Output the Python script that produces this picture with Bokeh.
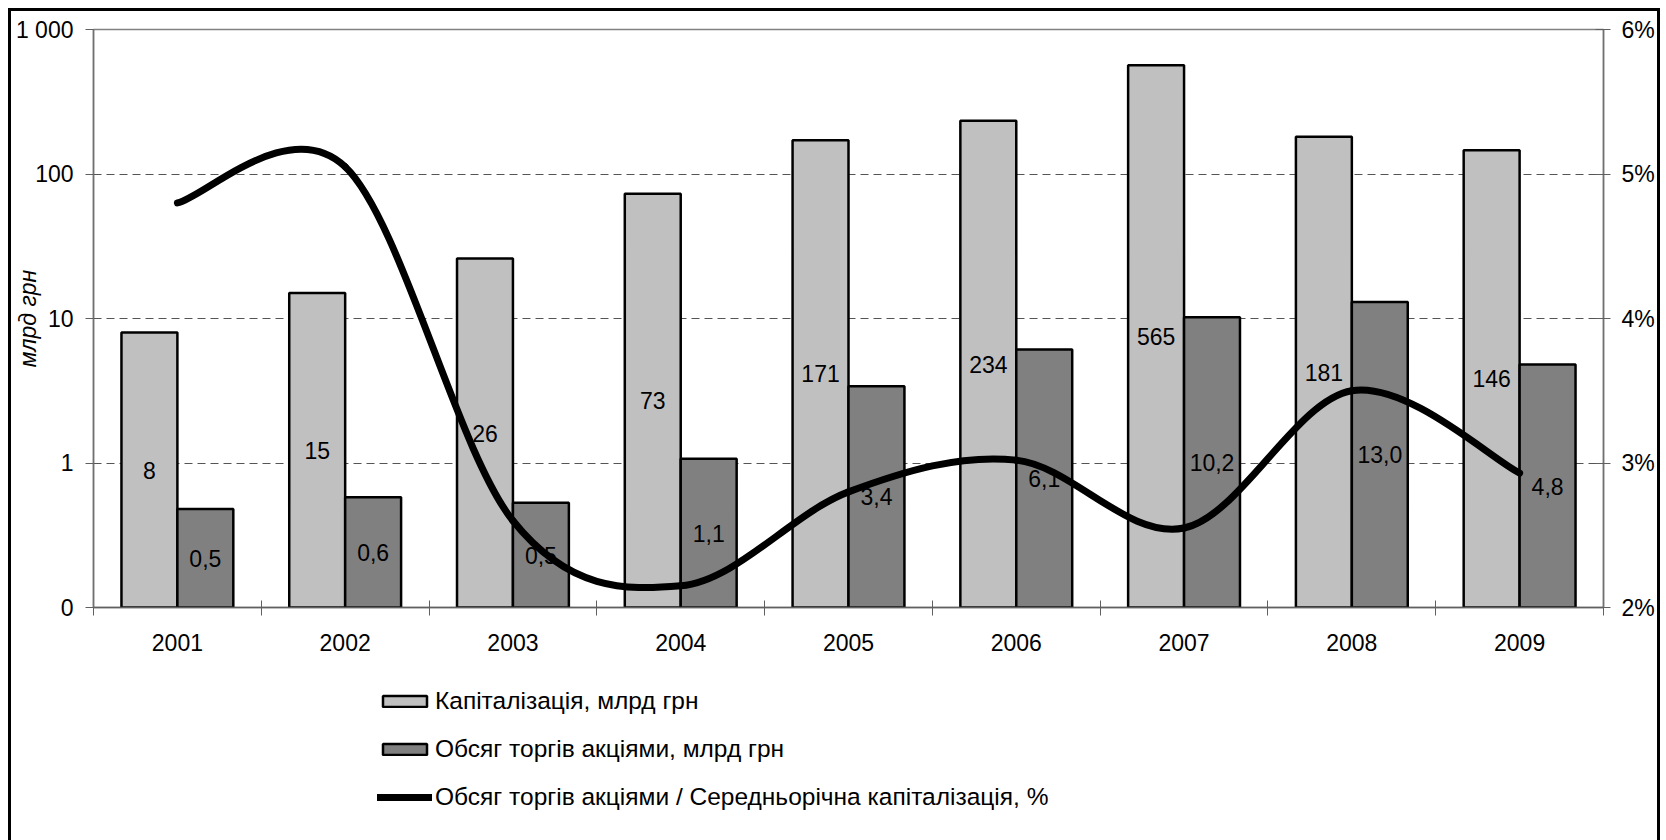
import math
from bokeh.plotting import figure
from bokeh.layouts import column
from bokeh.models import (Range1d, LinearAxis, FixedTicker, Legend, LegendItem,
                          LinearScale)
from bokeh.core.properties import value
from bokeh.embed import file_html
from bokeh.resources import INLINE

# ---------------- data ----------------
years = ["2001", "2002", "2003", "2004", "2005", "2006", "2007", "2008", "2009"]
capitalization = [8, 15, 26, 73, 171, 234, 565, 181, 146]          # млрд грн
trading = [0.48, 0.58, 0.53, 1.07, 3.4, 6.1, 10.2, 13.0, 4.8]       # млрд грн
ratio_pct = [4.80, 5.05, 2.60, 2.15, 2.80, 3.02, 2.55, 3.50, 2.93]  # %
left_ticks = [0.1, 1.0, 10.0, 100.0, 1000.0]
left_tick_labels = ["0", "1", "10", "100", "1 000"]
right_ticks = [2, 3, 4, 5, 6]
right_tick_labels = ["2%", "3%", "4%", "5%", "6%"]
grid_ticks = [1.0, 10.0, 100.0]

name_cap = "Капіталізація, млрд грн"
name_trade = "Обсяг торгів акціями, млрд грн"
name_ratio = "Обсяг торгів акціями / Середньорічна капіталізація, %"
y_title = "млрд грн"

FONT = "Liberation Sans"
FS = "23px"
LEGEND_FS = "24.5px"
LOG_BASE = 0.1
CAP_COLOR = "#C0C0C0"
TRADE_COLOR = "#808080"
LINE_W = 7

# ---------------- derived ----------------
n = len(years)
idx = [i + 1 for i in range(n)]
cap_x = [i - 1 / 6 for i in idx]
trade_x = [i + 1 / 6 for i in idx]
cap_lbl = [f"{v:.0f}" for v in capitalization]
trade_lbl = [f"{v:.1f}".replace(".", ",") for v in trading]
cap_ly = [math.sqrt(LOG_BASE * v) for v in capitalization]
trade_ly = [math.sqrt(LOG_BASE * v) for v in trading]

# smoothed line (Catmull-Rom style Bezier segments through the data points)
x0, y0, x1, y1, cx0, cy0, cx1, cy1 = ([] for _ in range(8))
for i in range(n - 1):
    pi_ = max(i - 1, 0)
    ni_ = min(i + 2, n - 1)
    x0.append(idx[i]); y0.append(ratio_pct[i])
    x1.append(idx[i + 1]); y1.append(ratio_pct[i + 1])
    cx0.append(idx[i] + (idx[i + 1] - idx[pi_]) / 6)
    cy0.append(ratio_pct[i] + (ratio_pct[i + 1] - ratio_pct[pi_]) / 6)
    cx1.append(idx[i + 1] - (idx[ni_] - idx[i]) / 6)
    cy1.append(ratio_pct[i + 1] - (ratio_pct[ni_] - ratio_pct[i]) / 6)

# ---------------- chart figure ----------------
p = figure(width=1646, height=659, output_backend="svg", toolbar_location=None,
           x_range=Range1d(0.5, 9.5), y_range=Range1d(0.1, 1000),
           y_axis_type="log",
           min_border_left=81, min_border_right=52, min_border_top=18,
           min_border_bottom=63)
p.background_fill_color = "white"
p.border_fill_color = "white"
p.outline_line_color = "#808080"
p.outline_line_width = 1.5

p.extra_y_ranges = {"pct": Range1d(2, 6)}
p.extra_y_scales = {"pct": LinearScale()}

# x axis
xa = p.xaxis[0]
xa.ticker = FixedTicker(ticks=idx, minor_ticks=[i - 0.5 for i in idx] + [idx[-1] + 0.5])
xa.major_label_overrides = {i: y for i, y in zip(idx, years)}
xa.major_tick_in = 0
xa.major_tick_out = 0
xa.minor_tick_in = 7
xa.minor_tick_out = 8
xa.minor_tick_line_color = "#606060"
xa.axis_line_color = "#606060"
xa.axis_line_width = 1.5
xa.major_label_standoff = 18
xa.major_label_text_font = FONT
xa.major_label_text_font_size = FS
xa.major_label_text_color = "black"

# left axis
ya = p.yaxis[0]
ya.ticker = FixedTicker(ticks=left_ticks)
ya.major_label_overrides = {t: l for t, l in zip(left_ticks, left_tick_labels)}
ya.major_tick_in = 0
ya.major_tick_out = 8
ya.minor_tick_in = 0
ya.minor_tick_out = 0
ya.major_tick_line_color = "#606060"
ya.axis_line_color = "#707070"
ya.axis_line_width = 1.5
ya.major_label_standoff = 12
ya.major_label_text_font = FONT
ya.major_label_text_font_size = FS
ya.major_label_text_color = "black"
ya.axis_label = y_title
ya.axis_label_standoff = -28
ya.axis_label_text_font = FONT
ya.axis_label_text_font_size = FS
ya.axis_label_text_font_style = "italic"
ya.axis_label_text_color = "black"

# right axis
ra = LinearAxis(y_range_name="pct", ticker=FixedTicker(ticks=right_ticks))
ra.major_label_overrides = {t: l for t, l in zip(right_ticks, right_tick_labels)}
ra.major_tick_in = 8
ra.major_tick_out = 7
ra.minor_tick_in = 0
ra.minor_tick_out = 0
ra.major_tick_line_color = "#606060"
ra.axis_line_color = "#707070"
ra.axis_line_width = 1.5
ra.major_label_standoff = 11
ra.major_label_text_font = FONT
ra.major_label_text_font_size = FS
ra.major_label_text_color = "black"
p.add_layout(ra, "right")

# grid
p.xgrid.visible = False
p.ygrid.ticker = FixedTicker(ticks=grid_ticks)
p.ygrid.grid_line_color = "#555555"
p.ygrid.grid_line_dash = "8 5"
p.ygrid.grid_line_width = 1

# bars
p.vbar(x=cap_x, top=capitalization, bottom=LOG_BASE, width=1 / 3,
       fill_color=CAP_COLOR, line_color="black", line_width=2.5)
p.vbar(x=trade_x, top=trading, bottom=LOG_BASE, width=1 / 3,
       fill_color=TRADE_COLOR, line_color="black", line_width=2.5)

# data labels
p.text(x=cap_x, y=cap_ly, text=cap_lbl, text_align="center", text_baseline="middle",
       text_font=value(FONT), text_font_size=FS, text_color="black")
p.text(x=trade_x, y=trade_ly, text=trade_lbl, text_align="center", text_baseline="middle",
       text_font=value(FONT), text_font_size=FS, text_color="black")

# smooth line
p.bezier(x0=x0, y0=y0, x1=x1, y1=y1, cx0=cx0, cy0=cy0, cx1=cx1, cy1=cy1,
         line_color="black", line_width=LINE_W, line_cap="round", y_range_name="pct")

# ---------------- legend figure ----------------
lg = figure(width=1646, height=170, output_backend="svg", toolbar_location=None,
            x_range=Range1d(0.5, 9.5), y_range=Range1d(0.1, 1000),
            x_axis_location=None, y_axis_location=None,
            min_border=0, min_border_left=0, min_border_right=0,
            min_border_top=0, min_border_bottom=0)
lg.grid.visible = False
lg.outline_line_color = None
lg.background_fill_color = "white"
lg.border_fill_color = "white"
# series renderers that only feed the legend swatches (hidden in this panel)
rl_cap = lg.vbar(x=cap_x, top=capitalization, bottom=LOG_BASE, width=1 / 3,
                 fill_color=CAP_COLOR, line_color="black", line_width=2.5, visible=False)
rl_trade = lg.vbar(x=trade_x, top=trading, bottom=LOG_BASE, width=1 / 3,
                   fill_color=TRADE_COLOR, line_color="black", line_width=2.5, visible=False)
rl_line = lg.line(x=idx, y=ratio_pct, line_color="black", line_width=LINE_W,
                  line_cap="round", visible=False)

legend = Legend(items=[LegendItem(label=name_cap, renderers=[rl_cap]),
                       LegendItem(label=name_trade, renderers=[rl_trade]),
                       LegendItem(label=name_ratio, renderers=[rl_line])],
                location=(284, 29), orientation="vertical")
legend.label_text_font = FONT
legend.label_text_font_size = LEGEND_FS
legend.label_text_color = "black"
legend.glyph_width = 55
legend.glyph_height = 14
legend.label_height = 28
legend.label_standoff = 3
legend.spacing = 20
legend.padding = 0
legend.margin = 0
legend.border_line_color = None
legend.background_fill_alpha = 0
legend.inactive_fill_alpha = 0
lg.add_layout(legend)

layout = column(p, lg, spacing=0)
layout.styles = {"margin-left": "11px", "margin-top": "11px",
                 "box-shadow": "0 0 0 3px black"}

open("out.html", "w").write(file_html(layout, INLINE))
